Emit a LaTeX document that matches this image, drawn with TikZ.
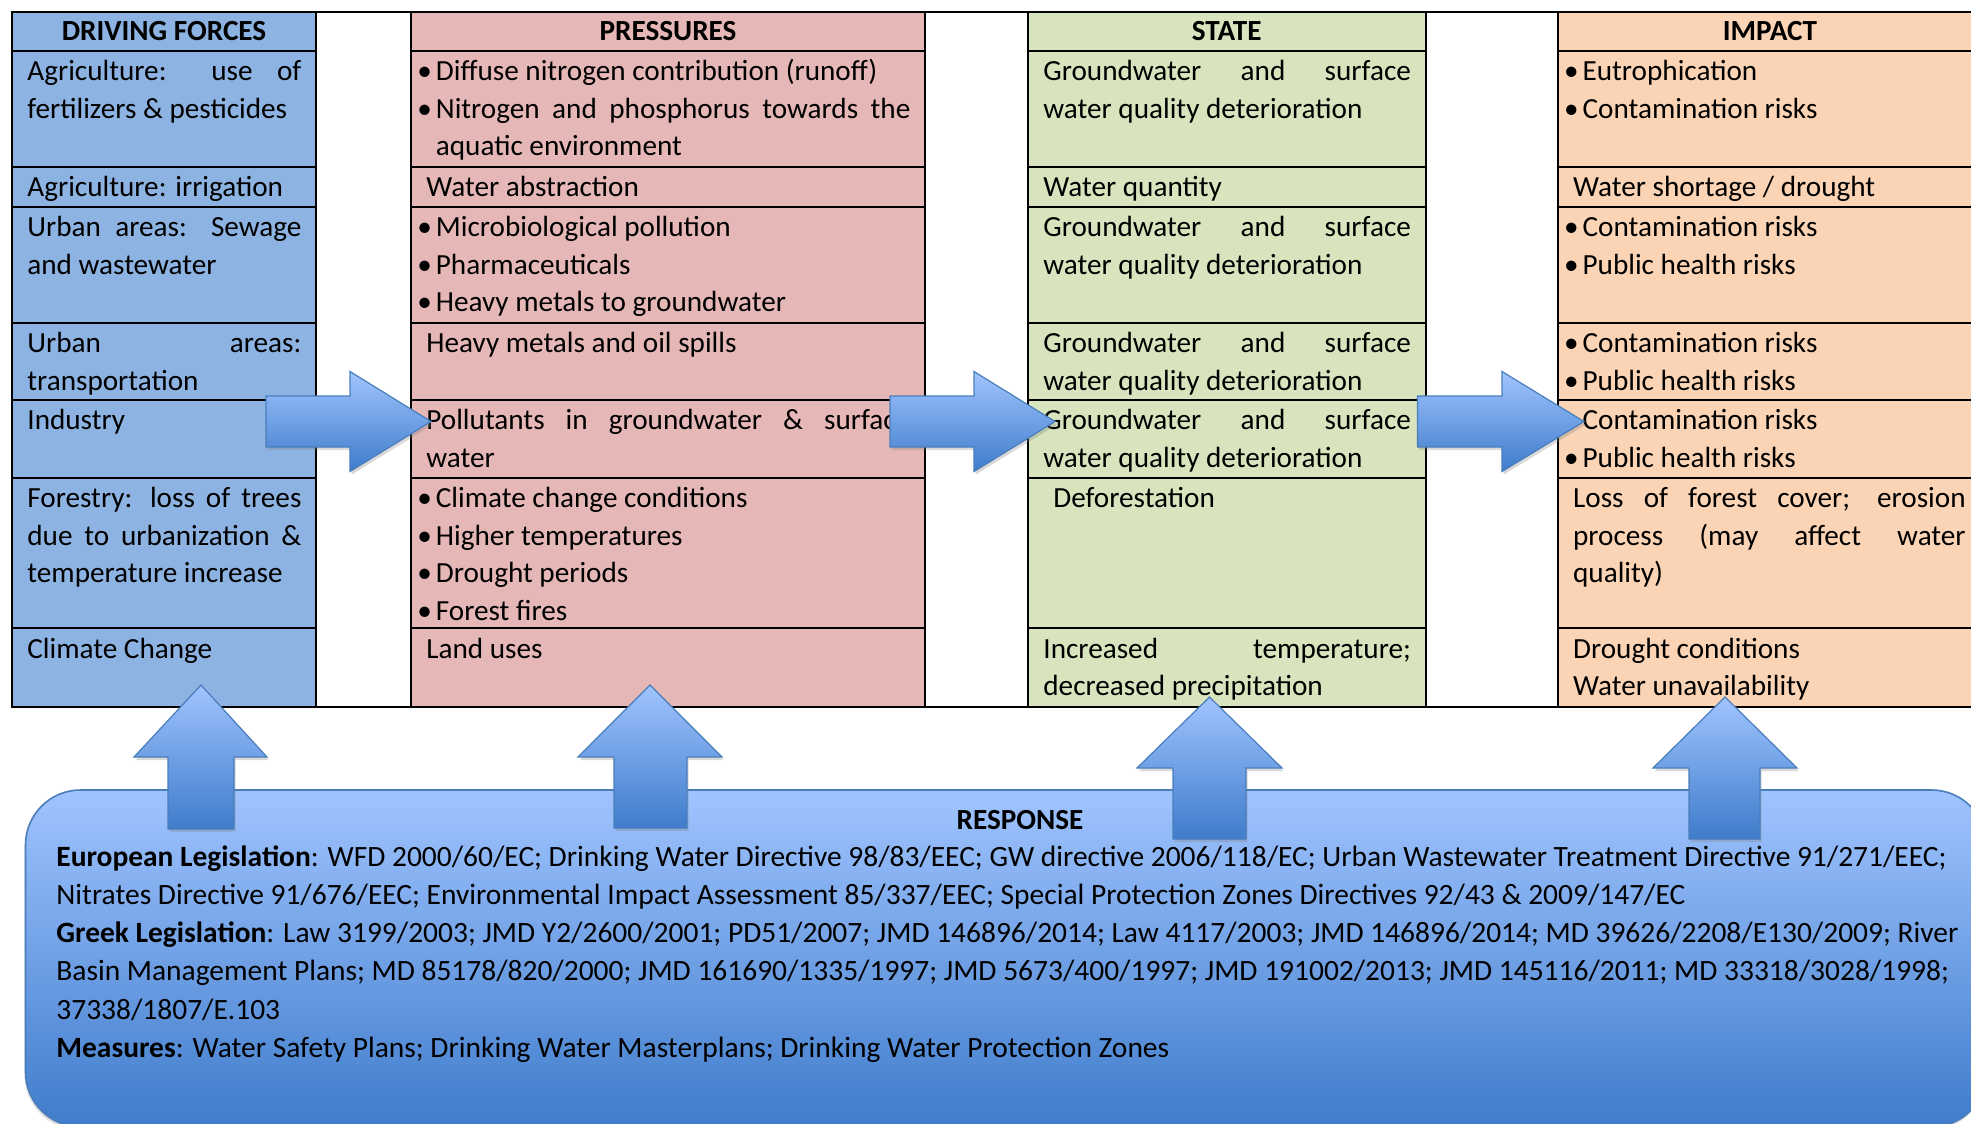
\documentclass[tikz,border=0pt]{standalone}
\usepackage{fontspec}
\setmainfont{Carlito}
\usepackage{xcolor}
\usetikzlibrary{shadows}
\definecolor{dfblue}{HTML}{8DB3E2}
\definecolor{prred}{HTML}{E5B8B7}
\definecolor{stgreen}{HTML}{D7E4BD}
\definecolor{imorange}{HTML}{FBD4B5}
\definecolor{arrlight}{HTML}{A0C4FF}
\definecolor{arrdark}{HTML}{3F7CCB}
\definecolor{arrline}{HTML}{4A7EBB}
\setlength{\parskip}{0pt}
\newcommand{\cellfont}{\fontsize{14.6pt}{18.85pt}\selectfont}
\newcommand{\respfont}{\fontsize{14.73pt}{19.15pt}\selectfont}
\newcommand{\bul}[1]{\hangindent=4.75pt\hangafter=1\noindent\hspace*{-4.5pt}\makebox[9.25pt][l]{\textbullet}#1\par}
\tikzstyle{tableline}=[line width=1pt,draw=black]
\tikzstyle{cell}=[anchor=base west,inner xsep=7.5pt,inner ysep=0pt,align=justify,font=\cellfont]
\tikzstyle{head}=[anchor=base,inner sep=0pt,font=\cellfont\bfseries]
\tikzstyle{blockarrow}=[draw=arrline,line width=0.6pt,top color=arrlight,bottom color=arrdark,drop shadow={shadow xshift=0.8pt,shadow yshift=-1.6pt,opacity=0.3}]
\tikzstyle{respbox}=[draw=arrline,line width=0.8pt,rounded corners=27.5pt,top color=arrlight,bottom color=arrdark,drop shadow={shadow xshift=-0.5pt,shadow yshift=-1.5pt,opacity=0.25}]

\begin{document}
\begin{tikzpicture}[x=0.5pt,y=-0.5pt]
\useasboundingbox (0,0) rectangle (1971,1124);

% table columns
\draw[tableline,fill=dfblue] (12,12.3) rectangle (316,706.7);
\draw[tableline,fill=prred] (411,12.3) rectangle (925,706.7);
\draw[tableline,fill=stgreen] (1028,12.3) rectangle (1425.5,706.7);
\draw[tableline,fill=imorange] (1557.7,12.3) rectangle (1990,706.7);
\draw[tableline] (12,12.3) -- (1990,12.3);
\draw[tableline] (12,706.7) -- (1990,706.7);
\foreach \ry in {50.7,166.7,206.7,322.7,400,477.7,628.3}
  \draw[tableline] (12,\ry) -- (316,\ry) (411,\ry) -- (925,\ry)
    (1028,\ry) -- (1425.5,\ry) (1557.7,\ry) -- (1990,\ry);

% headers
\node[head] (df0) at (164,40.5) {DRIVING FORCES};
\node[head] (pr0) at (668,40.5) {PRESSURES};
\node[head] (st0) at (1226.75,40.5) {STATE};
\node[head] (im0) at (1770,40.5) {IMPACT};

% driving forces
\node[cell,text width=137pt] (df1) at (12,80.5) {Agriculture: use of\linebreak fertilizers \& pesticides};
\node[cell,text width=137pt] (df2) at (12,196.5) {Agriculture: irrigation};
\node[cell,text width=137pt] (df3) at (12,236.5) {Urban areas: Sewage\linebreak and wastewater};
\node[cell,text width=137pt] (df4) at (12,352.5) {Urban areas:\linebreak transportation};
\node[cell,text width=137pt] (df5) at (12,429.8) {Industry};
\node[cell,text width=137pt] (df6) at (12,507.5) {Forestry: loss of trees\linebreak due to urbanization \&\linebreak temperature increase};
\node[cell,text width=137pt] (df7) at (12,658.1) {Climate Change};

% pressures
\node[cell,text width=242pt] (pr1) at (411,80.5) {\bul{Diffuse nitrogen contribution (runoff)}\bul{Nitrogen and phosphorus towards the\linebreak aquatic environment}};
\node[cell,text width=242pt] (pr2) at (411,196.5) {Water abstraction};
\node[cell,text width=242pt] (pr3) at (411,236.5) {\bul{Microbiological pollution}\bul{Pharmaceuticals}\bul{Heavy metals to groundwater}};
\node[cell,text width=242pt] (pr4) at (411,352.5) {Heavy metals and oil spills};
\node[cell,text width=242pt] (pr5) at (411,429.8) {Pollutants in groundwater \& surface\linebreak water};
\node[cell,text width=242pt] (pr6) at (411,507.5) {\bul{Climate change conditions}\bul{Higher temperatures}\bul{Drought periods}\bul{Forest fires}};
\node[cell,text width=242pt] (pr7) at (411,658.1) {Land uses};

% state
\node[cell,text width=183.75pt] (st1) at (1028,80.5) {Groundwater and surface\linebreak water quality deterioration};
\node[cell,text width=183.75pt] (st2) at (1028,196.5) {Water quantity};
\node[cell,text width=183.75pt] (st3) at (1028,236.5) {Groundwater and surface\linebreak water quality deterioration};
\node[cell,text width=183.75pt] (st4) at (1028,352.5) {Groundwater and surface\linebreak water quality deterioration};
\node[cell,text width=183.75pt] (st5) at (1028,429.8) {Groundwater and surface\linebreak water quality deterioration};
\node[cell,text width=183.75pt] (st6) at (1028,507.5) {\hspace*{5pt}Deforestation};
\node[cell,text width=183.75pt] (st7) at (1028,658.1) {Increased temperature;\linebreak decreased precipitation};

% impact
\node[cell,text width=196.25pt] (im1) at (1557.7,80.5) {\bul{Eutrophication}\bul{Contamination risks}};
\node[cell,text width=196.25pt] (im2) at (1557.7,196.5) {Water shortage / drought};
\node[cell,text width=196.25pt] (im3) at (1557.7,236.5) {\bul{Contamination risks}\bul{Public health risks}};
\node[cell,text width=196.25pt] (im4) at (1557.7,352.5) {\bul{Contamination risks}\bul{Public health risks}};
\node[cell,text width=196.25pt] (im5) at (1557.7,429.8) {\bul{Contamination risks}\bul{Public health risks}};
\node[cell,text width=196.25pt] (im6) at (1557.7,507.5) {Loss of forest cover; erosion\linebreak process (may affect water\linebreak quality)};
\node[cell,text width=196.25pt] (im7) at (1557.7,658.1) {Drought conditions\\Water unavailability};

% arrows to the right
\draw[blockarrow] (266,396) -- (350,396) -- (350,371.5) -- (431,421.5) -- (350,471.5) -- (350,447) -- (266,447) -- cycle;
\draw[blockarrow] (890,396) -- (974,396) -- (974,371.5) -- (1055,421.5) -- (974,471.5) -- (974,447) -- (890,447) -- cycle;
\draw[blockarrow] (1417.5,396) -- (1502,396) -- (1502,371.5) -- (1584,421.5) -- (1502,471.5) -- (1502,447) -- (1417.5,447) -- cycle;

% response
\draw[respbox] (25.5,790) rectangle (1986.5,1127);
\node[head] (resp) at (1020,829) {RESPONSE};
\node[anchor=base west,inner sep=0pt,font=\respfont] (resptext) at (56,866) {\parbox[t]{965pt}{\raggedright
\textbf{European Legislation}: WFD 2000/60/EC; Drinking Water Directive 98/83/EEC; GW directive 2006/118/EC; Urban Wastewater Treatment Directive 91/271/EEC;\\
Nitrates Directive 91/676/EEC; Environmental Impact Assessment 85/337/EEC; Special Protection Zones Directives 92/43 \& 2009/147/EC\\
\textbf{Greek Legislation}: Law 3199/2003; JMD Y2/2600/2001; PD51/2007; JMD 146896/2014; Law 4117/2003; JMD 146896/2014; MD 39626/2208/E130/2009; River\\
Basin Management Plans; MD 85178/820/2000; JMD 161690/1335/1997; JMD 5673/400/1997; JMD 191002/2013; JMD 145116/2011; MD 33318/3028/1998;\\
37338/1807/E.103\\
\textbf{Measures}: Water Safety Plans; Drinking Water Masterplans; Drinking Water Protection Zones}};

% arrows up
\draw[blockarrow] (201,685) -- (267,757) -- (234,757) -- (234,829) -- (168,829) -- (168,757) -- (134,757) -- cycle;
\draw[blockarrow] (650,685) -- (722,757) -- (687,757) -- (687,828) -- (614,828) -- (614,757) -- (578,757) -- cycle;
\draw[blockarrow] (1209.5,697) -- (1282,768) -- (1246,768) -- (1246,839) -- (1173,839) -- (1173,768) -- (1137,768) -- cycle;
\draw[blockarrow] (1725,697) -- (1797,768) -- (1760,768) -- (1760,839) -- (1689,839) -- (1689,768) -- (1653,768) -- cycle;
\end{tikzpicture}
\end{document}
